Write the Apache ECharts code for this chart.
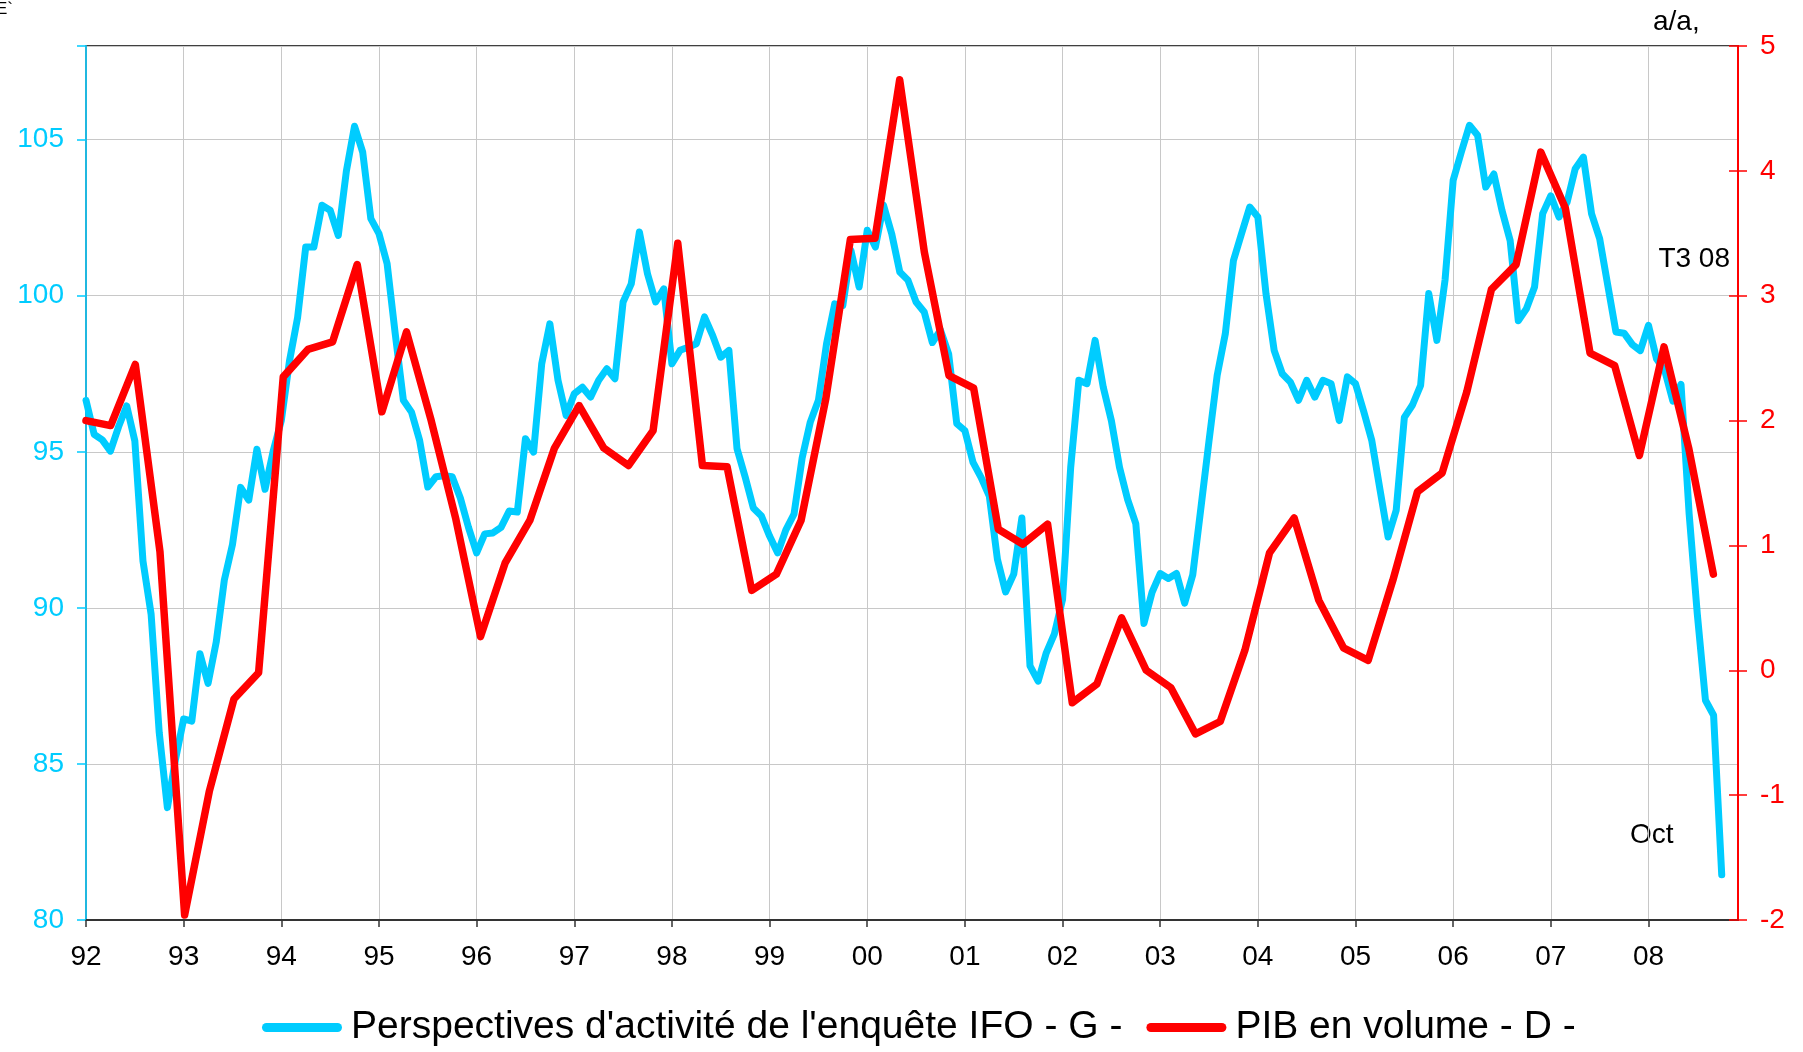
<!DOCTYPE html>
<html>
<head>
<meta charset="utf-8">
<script src="https://cdn.jsdelivr.net/npm/echarts@6.0.0/dist/echarts.min.js"></script>
<style>
	html, body { margin: 0; padding: 0; background: #fff; }
	#chart { width: 1803px; height: 1052px; }
</style>
</head>
<body>
<div id="chart"></div>
<script>
	// tick labels of the time axis (one per year)
	const years = ['92', '93', '94', '95', '96', '97', '98', '99', '00', '01', '02', '03', '04', '05', '06', '07', '08'];

	// IFO business expectations, monthly, Jan 92 - Oct 08 (left axis)
	const ifo = [
		96.65, 95.56, 95.38, 95.02, 95.8, 96.47, 95.35, 91.5, 89.8, 86.0, 83.6, 85.15,
		86.44, 86.37, 88.53, 87.58, 88.9, 90.89, 92.03, 93.86, 93.45, 95.08, 93.8, 95.02,
		96.0, 97.9, 99.3, 101.56, 101.56, 102.9, 102.74, 101.93, 104.0, 105.43, 104.6, 102.47,
		101.99, 101.03, 98.78, 96.65, 96.27, 95.36, 93.87, 94.2, 94.23, 94.2, 93.52, 92.58,
		91.76, 92.37, 92.4, 92.58, 93.1, 93.07, 95.42, 94.99, 97.82, 99.1, 97.29, 96.16,
		96.86, 97.07, 96.75, 97.29, 97.66, 97.34, 99.8, 100.38, 102.04, 100.7, 99.8, 100.22,
		97.82, 98.25, 98.35, 98.46, 99.32, 98.73, 98.03, 98.25, 95.1, 94.19, 93.2, 92.94,
		92.3, 91.76, 92.5, 93.0, 94.8, 95.95, 96.65, 98.46, 99.74, 99.69, 101.45, 100.28,
		102.1, 101.56, 102.9, 101.99, 100.76, 100.5, 99.8, 99.48, 98.5, 98.9, 98.14, 95.9,
		95.68, 94.66, 94.17, 93.58, 91.55, 90.51, 91.08, 92.88, 88.14, 87.65, 88.56, 89.17,
		90.27, 94.5, 97.29, 97.18, 98.57, 97.07, 96.0, 94.5, 93.47, 92.7, 89.5, 90.5,
		91.1, 90.94, 91.1, 90.15, 91.06, 93.2, 95.36, 97.45, 98.78, 101.13, 101.99, 102.84,
		102.52, 100.06, 98.25, 97.5, 97.23, 96.65, 97.29, 96.75, 97.29, 97.18, 96.0, 97.4,
		97.18, 96.3, 95.36, 93.8, 92.27, 93.13, 96.1, 96.5, 97.13, 100.07, 98.57, 100.5,
		103.7, 104.6, 105.46, 105.14, 103.48, 103.9, 102.73, 101.77, 99.2, 99.58, 100.28, 102.63,
		103.2, 102.52, 103.0, 104.07, 104.44, 102.63, 101.83, 100.33, 98.84, 98.8, 98.44, 98.24,
		99.05, 97.97, 97.6, 96.62, 97.16, 93.0, 89.8, 87.04, 86.56, 81.45
	];

	// GDP volume, % a/a, quarterly, T1 92 - T3 08 (right axis)
	const pib = [
		2.0, 1.96, 2.45, 0.95,
		-1.96, -0.97, -0.23, -0.02,
		2.35, 2.57, 2.63, 3.25,
		2.07, 2.71, 2.0, 1.21,
		0.27, 0.86, 1.2, 1.78,
		2.12, 1.78, 1.64, 1.92,
		3.42, 1.64, 1.63, 0.64,
		0.77, 1.2, 2.17, 3.45,
		3.46, 4.73, 3.35, 2.36,
		2.26, 1.13, 1.01, 1.17,
		-0.26, -0.11, 0.42, 0.0,
		-0.14, -0.51, -0.41, 0.16,
		0.94, 1.22, 0.56, 0.18,
		0.08, 0.72, 1.43, 1.58,
		2.23, 3.05, 3.25, 4.15,
		3.7, 2.54, 2.44, 1.72,
		2.59, 1.78, 0.77
	];

	const leftTicks = [80, 85, 90, 95, 100, 105];
	const rightTicks = [-2, -1, 0, 1, 2, 3, 4, 5];

	const months = [];
	const quarters = [];
	years.forEach(function (y) {
		for (let m = 1; m <= 12; m++) months.push(y + '-' + (m < 10 ? '0' + m : m));
		for (let q = 1; q <= 4; q++) quarters.push('T' + q + ' ' + y);
	});

	const FONT = 'Liberation Sans, Arial, sans-serif';
	const BLUE = '#00CCFF';
	const RED = '#FF0000';

	const chart = echarts.init(document.getElementById('chart'), null, { width: 1803, height: 1052 });

	const option = {
		backgroundColor: '#fff',
		animation: false,
		textStyle: { fontFamily: FONT },
		grid: {
			left: 86,
			right: 65,
			top: 46,
			bottom: 132,
			show: true,
			borderColor: '#404040',
			borderWidth: 2,
			backgroundColor: 'transparent'
		},
		legend: {
			left: 262,
			top: 1008,
			padding: 0,
			itemWidth: 80,
			itemHeight: 9,
			itemGap: 24,
			icon: 'path://M4.5,0H75.5A4.5,4.5,0,0,1,75.5,9H4.5A4.5,4.5,0,0,1,4.5,0Z',
			textStyle: { fontSize: 39, color: '#000', fontFamily: FONT, padding: [0, 0, 0, 4] },
			data: ["Perspectives d'activité de l'enquête IFO - G -", 'PIB en volume - D -']
		},
		xAxis: [{
			type: 'category',
			data: months,
			boundaryGap: false,
			axisLine: { onZero: false, lineStyle: { color: '#333', width: 2 } },
			axisTick: { interval: 11, length: 7, lineStyle: { color: '#333', width: 1.5 } },
			axisLabel: {
				interval: 11,
				margin: 23,
				fontSize: 28,
				color: '#000',
				fontFamily: FONT,
				formatter: function (v) { return v.slice(0, 2); }
			},
			splitLine: { show: true, interval: 11, lineStyle: { color: '#C8C8C8', width: 1 } }
		}, {
			type: 'category',
			data: quarters,
			boundaryGap: false,
			axisLine: { onZero: false },
			show: false
		}],
		yAxis: [{
			type: 'value',
			position: 'left',
			min: 80,
			max: 108,
			interval: 5,
			axisLine: { show: true, lineStyle: { color: '#20B8E0', width: 2 } },
			axisTick: { show: true, length: 9, lineStyle: { color: BLUE, width: 1.5 } },
			axisLabel: {
				margin: 22,
				fontSize: 28,
				color: BLUE,
				fontFamily: FONT,
				formatter: function (v) { return leftTicks.indexOf(v) >= 0 ? String(v) : ''; }
			},
			splitLine: { show: true, lineStyle: { color: '#C8C8C8', width: 1 } }
		}, {
			type: 'value',
			position: 'right',
			min: -2,
			max: 5,
			interval: 1,
			axisLine: { show: true, lineStyle: { color: RED, width: 2 } },
			axisTick: { show: true, length: 9, lineStyle: { color: RED, width: 1.5 } },
			axisLabel: {
				margin: 22,
				fontSize: 28,
				color: RED,
				fontFamily: FONT,
				formatter: function (v) { return rightTicks.indexOf(v) >= 0 ? String(v) : ''; }
			},
			splitLine: { show: false }
		}, {
			// second copy of the right axis: inner half of the crossing ticks
			type: 'value',
			position: 'right',
			min: -2,
			max: 5,
			interval: 1,
			axisLine: { show: false },
			axisTick: { show: true, inside: true, length: 9, lineStyle: { color: RED, width: 1.5 } },
			axisLabel: { show: false },
			splitLine: { show: false }
		}],
		graphic: [{
			type: 'text', x: 1653, y: 22,
			style: { text: 'a/a,', font: '28px ' + FONT, fill: '#000', textAlign: 'left', textVerticalAlign: 'middle' }
		}, {
			type: 'text', x: 1730, y: 259,
			style: { text: 'T3 08', font: '28px ' + FONT, fill: '#000', textAlign: 'right', textVerticalAlign: 'middle' }
		}, {
			type: 'text', x: 1630, y: 835,
			style: { text: 'Oct', font: '28px ' + FONT, fill: '#000', textAlign: 'left', textVerticalAlign: 'middle' }
		}, {
			type: 'text', x: -4, y: 9,
			style: { text: 'E`', font: '17px ' + FONT, fill: '#000', textAlign: 'left', textVerticalAlign: 'middle' }
		}],
		series: [{
			name: "Perspectives d'activité de l'enquête IFO - G -",
			type: 'line',
			xAxisIndex: 0,
			yAxisIndex: 0,
			data: ifo,
			showSymbol: false,
			symbol: 'none',
			color: BLUE,
			lineStyle: { color: BLUE, width: 7, join: 'round', cap: 'round' }
		}, {
			name: 'PIB en volume - D -',
			type: 'line',
			xAxisIndex: 1,
			yAxisIndex: 1,
			data: pib,
			showSymbol: false,
			symbol: 'none',
			color: RED,
			lineStyle: { color: RED, width: 7.5, join: 'round', cap: 'round' }
		}]
	};

	chart.setOption(option);
</script>
</body>
</html>
